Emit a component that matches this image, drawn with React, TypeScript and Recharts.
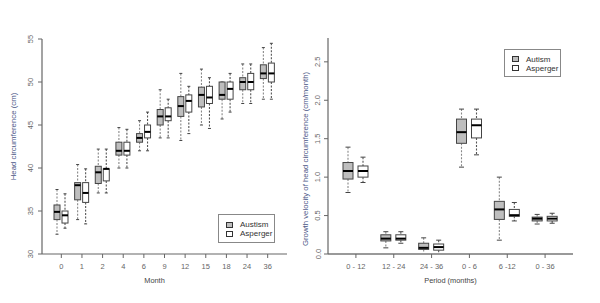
import React from 'react';
import { ComposedChart, Bar, XAxis, YAxis, Legend } from 'recharts';

// ---------- Left panel: head circumference by month ----------
const months = ['0', '1', '2', '4', '6', '9', '12', '15', '18', '24', '36'];
// [min, q1, median, q3, max]
const headAutism = [
  [32.3, 34.0, 34.9, 35.7, 37.5],
  [34.0, 36.3, 38.0, 38.3, 40.4],
  [37.1, 38.2, 39.5, 40.2, 42.2],
  [40.0, 41.5, 42.0, 43.0, 44.7],
  [42.0, 43.0, 43.5, 44.0, 45.5],
  [43.5, 45.0, 46.0, 46.8, 49.1],
  [43.2, 46.0, 47.2, 48.3, 51.0],
  [45.0, 47.1, 48.5, 49.4, 51.5],
  [45.7, 48.0, 48.5, 50.0, 50.0],
  [47.5, 49.1, 50.0, 50.5, 52.1],
  [48.0, 50.4, 51.0, 52.0, 54.0],
];
const headAsperger = [
  [33.0, 33.6, 34.5, 35.0, 37.0],
  [33.5, 36.0, 37.1, 38.3, 39.9],
  [37.1, 38.5, 39.9, 39.9, 42.2],
  [40.0, 41.5, 42.0, 43.0, 44.5],
  [42.0, 43.5, 44.2, 45.0, 46.5],
  [43.5, 45.5, 46.0, 47.0, 48.0],
  [44.0, 46.5, 47.8, 48.5, 49.5],
  [44.6, 47.5, 48.2, 49.5, 50.5],
  [46.5, 48.0, 49.2, 50.0, 51.0],
  [47.5, 49.1, 50.0, 51.0, 52.1],
  [48.0, 50.0, 51.0, 52.2, 54.5],
];
const headTicks = [30, 35, 40, 45, 50, 55];
const headLegendOrder = ['Austism', 'Asperger'];

// ---------- Right panel: growth velocity by period ----------
const periods = ['0 - 12', '12 - 24', '24 - 36', '0 - 6', '6 -12', '0 - 36'];
const velAutism = [
  [0.80, 0.975, 1.08, 1.19, 1.39],
  [0.08, 0.17, 0.20, 0.25, 0.29],
  [0.0, 0.06, 0.08, 0.14, 0.21],
  [1.13, 1.44, 1.585, 1.755, 1.885],
  [0.18, 0.45, 0.58, 0.685, 1.0],
  [0.39, 0.43, 0.46, 0.48, 0.515],
];
const velAsperger = [
  [0.93, 1.0, 1.08, 1.145, 1.26],
  [0.14, 0.18, 0.20, 0.25, 0.29],
  [0.0, 0.05, 0.09, 0.13, 0.18],
  [1.29, 1.51, 1.675, 1.755, 1.885],
  [0.43, 0.49, 0.505, 0.58, 0.67],
  [0.40, 0.43, 0.46, 0.49, 0.53],
];
const velTicks = [0, 0.5, 1.0, 1.5, 2.0, 2.5];
const velLegendOrder = ['Autism', 'Asperger'];

const headData = months.map((m, i) => ({ cat: m, aut: headAutism[i], asp: headAsperger[i] }));
const velData = periods.map((p, i) => ({ cat: p, aut: velAutism[i], asp: velAsperger[i] }));

const FONT = '"Liberation Sans", Arial, sans-serif';
const GRAY = '#bebebe';

function makeBox(key: 'aut' | 'asp', fill: string, whisker: string) {
  return (props: any) => {
    const { x, y, width, height, payload } = props;
    const s: number[] = payload[key];
    const top = Math.min(y, y + height);
    const span = Math.abs(height);
    const lo = s[0];
    const hi = s[4];
    const py = (v: number) => top + (hi === lo ? 0 : (span * (hi - v)) / (hi - lo));
    const cx = x + width / 2;
    const cap = width / 4;
    return (
      <g>
        <line x1={cx} x2={cx} y1={py(s[4])} y2={py(s[3])} stroke={whisker} strokeWidth={1.1} strokeDasharray="2 1.5" />
        <line x1={cx} x2={cx} y1={py(s[1])} y2={py(s[0])} stroke={whisker} strokeWidth={1.1} strokeDasharray="2 1.5" />
        <line x1={cx - cap} x2={cx + cap} y1={py(s[4])} y2={py(s[4])} stroke="#444" strokeWidth={1} />
        <line x1={cx - cap} x2={cx + cap} y1={py(s[0])} y2={py(s[0])} stroke="#444" strokeWidth={1} />
        <rect x={x} y={py(s[3])} width={width} height={Math.max(0, py(s[1]) - py(s[3]))} fill={fill} stroke="#444" strokeWidth={1} />
        <line x1={x} x2={x + width} y1={py(s[2])} y2={py(s[2])} stroke="#000" strokeWidth={2} />
      </g>
    );
  };
}

function makeYTick(shift: number, fmt: (v: number) => string) {
  return (props: any) => {
    const { x, y, payload } = props;
    const bx = x - shift;
    return (
      <text x={bx} y={y} transform={`rotate(-90, ${bx}, ${y})`} textAnchor="middle" fontSize={7.5} fill="#666" fontFamily={FONT}>
        {fmt(payload.value)}
      </text>
    );
  };
}

function makeXTick(dy: number) {
  return (props: any) => {
    const { x, y, payload } = props;
    return (
      <text x={x} y={y + dy} textAnchor="middle" fontSize={7.5} fill="#666" fontFamily={FONT}>
        {payload.value}
      </text>
    );
  };
}

function makeLegend(order: string[], padTop: number, padLeft: number, lineH: number, gap: number) {
  return (props: any) => {
    const items = [...(props.payload || [])].sort((a: any, b: any) => order.indexOf(a.value) - order.indexOf(b.value));
    return (
      <div
        style={{
          border: '1px solid #888',
          background: '#fff',
          boxSizing: 'border-box',
          width: '100%',
          height: '100%',
          paddingTop: padTop,
          paddingLeft: padLeft,
          fontFamily: FONT,
          fontSize: 8,
          color: '#333',
          whiteSpace: 'nowrap',
        }}
      >
        {items.map((p: any) => (
          <div key={p.value} style={{ display: 'flex', alignItems: 'center', height: lineH, lineHeight: `${lineH}px` }}>
            <span
              style={{
                display: 'inline-block',
                width: 5,
                height: 4,
                background: p.color,
                border: '1px solid #333',
                marginRight: gap,
                boxSizing: 'content-box',
              }}
            />
            <span>{p.value}</span>
          </div>
        ))}
      </div>
    );
  };
}

const yTitle = (text: string, dxFromLeft: number, cyShift: number, color: string) => (props: any) => {
  const vb = props.viewBox || {};
  const x = vb.x + dxFromLeft;
  const y = vb.y + vb.height / 2 + cyShift;
  return (
    <text x={x} y={y} transform={`rotate(-90, ${x}, ${y})`} textAnchor="middle" dominantBaseline="central" fontSize={7.8} fill={color} fontFamily={FONT}>
      {text}
    </text>
  );
};

const xTitle = (text: string, baselineFromTop: number, dx: number) => (props: any) => {
  const vb = props.viewBox || {};
  return (
    <text x={vb.x + vb.width / 2 + dx} y={vb.y + baselineFromTop} textAnchor="middle" fontSize={7.4} fill="#444" fontFamily={FONT}>
      {text}
    </text>
  );
};

export default function App() {
  return (
    <div style={{ position: 'absolute', left: 0, top: 0, width: 600, height: 303, background: '#fff', display: 'flex' }}>
      <ComposedChart width={300} height={303} data={headData} margin={{ top: 39, right: 13, bottom: 19, left: 0 }} barSize={6} barGap={2}>
        <XAxis
          dataKey="cat"
          interval={0}
          height={30}
          padding={{ left: 9, right: 9 }}
          tickSize={4}
          tickMargin={0}
          tickLine={{ stroke: '#666' }}
          axisLine={{ stroke: '#666', strokeWidth: 1.2 }}
          tick={makeXTick(10.5)}
          label={{ content: xTitle('Month', 29, -10) }}
        />
        <XAxis xAxisId="top" dataKey="cat" orientation="top" height={0} tick={false} tickLine={false} axisLine={{ stroke: '#aaa', strokeWidth: 2 }} />
        <YAxis
          type="number"
          domain={[30, 55]}
          ticks={headTicks}
          allowDataOverflow
          width={42}
          tickSize={4}
          tickMargin={0}
          tickLine={{ stroke: '#666' }}
          axisLine={{ stroke: '#666', strokeWidth: 1.2 }}
          tick={makeYTick(5, (v) => String(v))}
          label={{ content: yTitle('Head circumference (cm)', 13, -10, '#4a5585') }}
        />
        <YAxis yAxisId="right" orientation="right" type="number" domain={[0, 1]} width={0} tick={false} tickLine={false} axisLine={{ stroke: '#aaa', strokeWidth: 2 }} />
        <Bar dataKey={(d: any) => [d.aut[0], d.aut[4]]} name="Austism" fill={GRAY} stroke="#444" isAnimationActive={false} shape={makeBox('aut', GRAY, '#888')} />
        <Bar dataKey={(d: any) => [d.asp[0], d.asp[4]]} name="Asperger" fill="#fff" stroke="#444" isAnimationActive={false} shape={makeBox('asp', '#fff', '#555')} />
        <Legend
          layout="vertical"
          align="center"
          verticalAlign="middle"
          width={57}
          height={29}
          wrapperStyle={{ left: 218, top: 214, width: 57, height: 29 }}
          content={makeLegend(headLegendOrder, 6, 7, 8.5, 7)}
        />
      </ComposedChart>
      <ComposedChart width={300} height={303} data={velData} margin={{ top: 38, right: 27, bottom: 19, left: 0 }} barSize={10} barGap={5}>
        <XAxis
          dataKey="cat"
          interval={0}
          height={30}
          padding={{ left: 9, right: 9 }}
          tickSize={4}
          tickMargin={0}
          tickLine={{ stroke: '#666' }}
          axisLine={{ stroke: '#999', strokeWidth: 2 }}
          tick={makeXTick(11)}
          label={{ content: xTitle('Period (months)', 29, 0) }}
        />
        <XAxis xAxisId="top" dataKey="cat" orientation="top" height={0} tick={false} tickLine={false} axisLine={{ stroke: '#777', strokeWidth: 1.2 }} />
        <YAxis
          type="number"
          domain={[0, 2.81]}
          ticks={velTicks}
          allowDataOverflow
          width={28}
          tickSize={4}
          tickMargin={0}
          tickLine={{ stroke: '#666' }}
          axisLine={{ stroke: '#666', strokeWidth: 1.2 }}
          tick={makeYTick(3.5, (v) => v.toFixed(1))}
          label={{ content: yTitle('Growth velocity of head circumference (cm/month)', 5.5, 13, '#4a5585') }}
        />
        <YAxis yAxisId="right" orientation="right" type="number" domain={[0, 1]} width={0} tick={false} tickLine={false} axisLine={{ stroke: '#777', strokeWidth: 1.2 }} />
        <Bar dataKey={(d: any) => [d.aut[0], d.aut[4]]} name="Autism" fill={GRAY} stroke="#444" isAnimationActive={false} shape={makeBox('aut', GRAY, '#888')} />
        <Bar dataKey={(d: any) => [d.asp[0], d.asp[4]]} name="Asperger" fill="#fff" stroke="#444" isAnimationActive={false} shape={makeBox('asp', '#fff', '#555')} />
        <Legend
          layout="vertical"
          align="center"
          verticalAlign="middle"
          width={57}
          height={28}
          wrapperStyle={{ left: 204, top: 49, width: 57, height: 28 }}
          content={makeLegend(velLegendOrder, 4.5, 7, 9, 7)}
        />
      </ComposedChart>
    </div>
  );
}
